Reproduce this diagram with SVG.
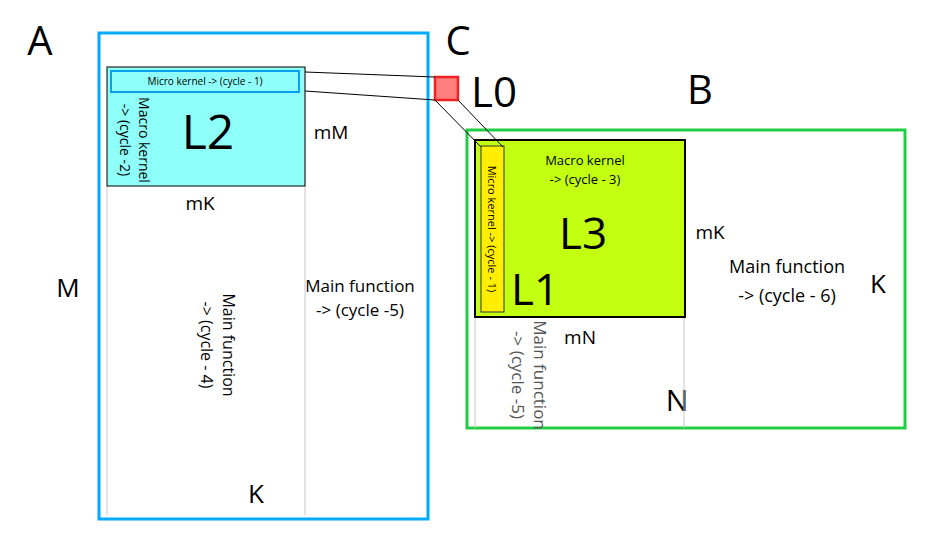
<svg xmlns="http://www.w3.org/2000/svg" width="930" height="541" viewBox="0 0 930 541">
<style>
text{font-family:"Open Sans","Noto Sans","DejaVu Sans",sans-serif;fill:#000;text-anchor:middle}
.g{stroke:#c8c8c8;stroke-width:1}
.c{stroke:#000;stroke-width:1;fill:none}
</style>
<rect width="930" height="541" fill="#fff"/>
<g id="A"><rect x="99" y="33" width="329" height="486" fill="none" stroke="#00aaff" stroke-width="3"/>
<text x="40" y="55" font-size="40">A</text>
<text x="68" y="297" font-size="26">M</text>
<text x="256" y="503" font-size="26">K</text>
<text x="360" y="292" font-size="17">Main function</text>
<text x="360" y="316" font-size="17">-&gt; (cycle -5)</text>
<g transform="translate(217,345) rotate(90)"><text x="0" y="-6" font-size="16">Main function</text><text x="0" y="16" font-size="16">-&gt; (cycle - 4)</text></g>
<line class="g" x1="107" y1="186" x2="107" y2="515"/><line class="g" x1="305" y1="67" x2="305" y2="515"/>
</g>
<g id="L2"><rect x="107" y="67" width="198" height="119" fill="#8ffff9" stroke="#000" stroke-width="1"/>
<rect x="111" y="71" width="188" height="21" fill="#8ffff9" stroke="#0aa0f0" stroke-width="2"/>
<text x="205" y="85" font-size="10">Micro kernel -&gt; (cycle - 1)</text>
<text x="208" y="149" font-size="48">L2</text>
<g transform="translate(134,140) rotate(90)"><text x="0" y="-5" font-size="14">Macro kernel</text><text x="0" y="14" font-size="14">-&gt; (cycle -2)</text></g>
<text x="331" y="139" font-size="19">mM</text>
<text x="200" y="210" font-size="19">mK</text>
</g>
<g id="C"><rect x="435" y="77" width="23" height="23" fill="#ff7f7f" stroke="#ee2222" stroke-width="2.5"/>
<text x="458" y="55" font-size="40">C</text>
<text x="494" y="107" font-size="42">L0</text>
</g>
<g id="B"><rect x="467" y="130" width="438" height="298" fill="none" stroke="#22cc44" stroke-width="3"/>
<text x="700" y="104" font-size="40">B</text>
<text x="878" y="293" font-size="26">K</text>
<text x="787" y="273" font-size="18">Main function</text>
<text x="787" y="302" font-size="18">-&gt; (cycle - 6)</text>
<text x="677" y="411" font-size="30">N</text>
<text x="580" y="344" font-size="19">mN</text>
<text x="710" y="239" font-size="19">mK</text>
<line class="g" x1="475" y1="317" x2="475" y2="428"/><line class="g" x1="684" y1="317" x2="684" y2="428"/>
<g transform="translate(528,375) rotate(90)"><text x="0" y="-6" font-size="17" style="fill:#555">Main function</text><text x="0" y="16" font-size="17" style="fill:#555">-&gt; (cycle -5)</text></g>
</g>
<g id="L3"><rect x="475" y="140" width="210" height="177" fill="#c3ff10" stroke="#000" stroke-width="2"/>
<text x="585" y="165" font-size="13">Macro kernel</text>
<text x="585" y="184" font-size="13">-&gt; (cycle - 3)</text>
<text x="583" y="249" font-size="44">L3</text>
</g>
<g id="L1"><rect x="481" y="146" width="23" height="166" fill="#ffee00" stroke="#333" stroke-width="1"/>
<g transform="translate(492,229) rotate(90)"><text x="0" y="4" font-size="11">Micro kernel -&gt; (cycle - 1)</text></g>
<text x="535" y="305" font-size="44">L1</text>
</g>
<g id="connectors">
<line class="c" x1="305" y1="72" x2="435" y2="77"/>
<line class="c" x1="305" y1="91" x2="435" y2="100"/>
<line class="c" x1="435" y1="100" x2="481" y2="147"/>
<line class="c" x1="458" y1="100" x2="503" y2="147"/>
</g>
</svg>
